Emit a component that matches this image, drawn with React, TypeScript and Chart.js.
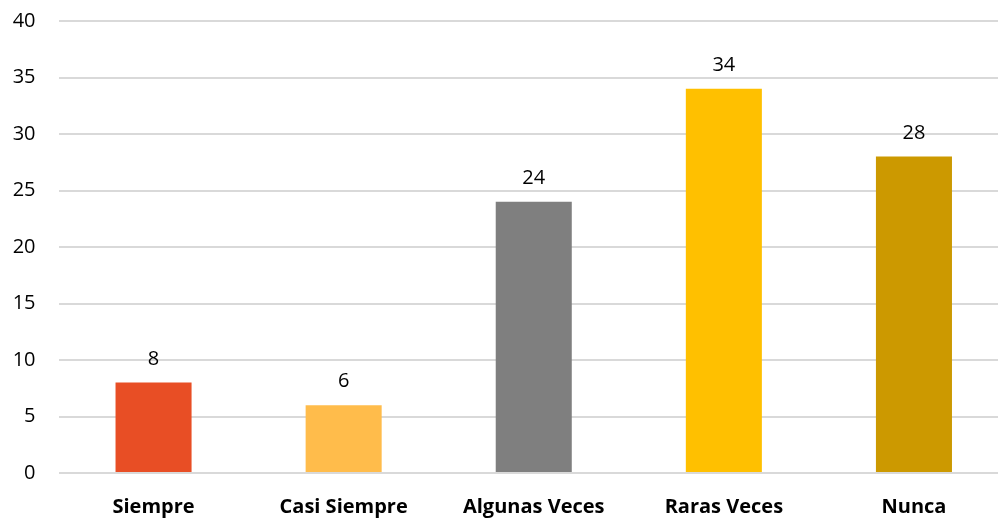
import React, { useEffect, useRef } from "react";
import { Chart, registerables } from "chart.js";

Chart.register(...registerables);

const categories = ["Siempre", "Casi Siempre", "Algunas Veces", "Raras Veces", "Nunca"];
const values = [8, 6, 24, 34, 28];
const barColors = ["#E84E25", "#FFBC4B", "#7F7F7F", "#FFC000", "#CC9900"];
const yTicks = [0, 5, 10, 15, 20, 25, 30, 35, 40];

const FONT = "'Open Sans', 'Lato', sans-serif";

const valueLabels = {
  id: "valueLabels",
  afterDatasetsDraw(chart: any) {
    const ctx = chart.ctx;
    const meta = chart.getDatasetMeta(0);
    ctx.save();
    ctx.font = `20px ${FONT}`;
    ctx.fillStyle = "#000";
    ctx.textAlign = "center";
    ctx.textBaseline = "alphabetic";
    meta.data.forEach((bar: any, i: number) => {
      ctx.fillText(String(values[i]), bar.x, bar.y - 18);
    });
    ctx.restore();
  },
};

export default function App() {
  const ref = useRef<HTMLCanvasElement | null>(null);
  useEffect(() => {
    if (!ref.current) return;
    const chart = new Chart(ref.current, {
      type: "bar",
      data: {
        labels: categories,
        datasets: [
          {
            data: values,
            backgroundColor: barColors,
            categoryPercentage: 1,
            barPercentage: 0.4,
          },
        ],
      },
      options: {
        responsive: false,
        animation: false,
        layout: { padding: { top: 21, right: 0, bottom: 0, left: 0 } },
        plugins: { legend: { display: false }, tooltip: { enabled: false } },
        scales: {
          x: {
            grid: { display: false },
            border: { display: false },
            ticks: {
              color: "#000",
              font: { family: FONT, size: 20, weight: "bold" },
              padding: 14,
              maxRotation: 0,
              autoSkip: false,
            },
            afterFit(scale: any) {
              scale.height = 45;
              scale.paddingLeft = 0;
              scale.paddingRight = 0;
            },
          },
          y: {
            min: 0,
            max: 40,
            afterBuildTicks(scale: any) {
              scale.ticks = yTicks.map((v) => ({ value: v }));
            },
            grid: { color: "#D9D9D9", lineWidth: 2, drawTicks: false },
            border: { display: false },
            ticks: {
              color: "#000",
              font: { family: FONT, size: 20 },
              padding: 23,
            },
            afterFit(scale: any) {
              scale.width = 58.5;
              scale.paddingTop = 0;
              scale.paddingBottom = 0;
            },
          },
        },
      },
      plugins: [valueLabels],
    });
    return () => chart.destroy();
  }, []);
  return (
    <div style={{ position: "fixed", left: 0, top: 0, width: 998, height: 518, overflow: "hidden", background: "#fff" }}>
      <canvas ref={ref} width={1009} height={518} style={{ width: 1009, height: 518, display: "block" }} />
    </div>
  );
}
